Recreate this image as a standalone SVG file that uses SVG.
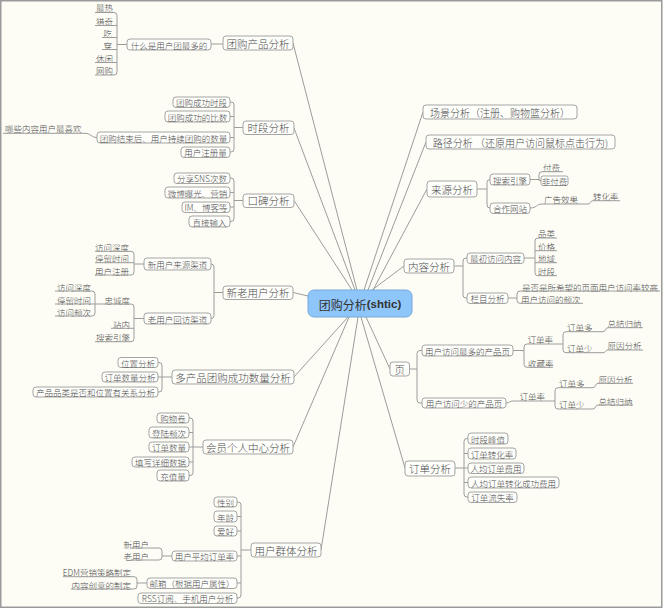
<svg xmlns="http://www.w3.org/2000/svg" width="663" height="608" viewBox="0 0 663 608">
<style>
  .bg{fill:#fdfdf6}
  .bx{fill:#fefefb;stroke:#a4a4a4;stroke-width:1}
  .c{fill:none;stroke:#9c9c9c;stroke-width:1}
  text{font-family:"Noto Sans CJK SC","Noto Sans",sans-serif;fill:#4c4c4c;font-weight:300;dominant-baseline:central}
  .m{font-size:10.5px;text-anchor:middle}
  .mw{font-size:10px;text-anchor:middle}
  .s{font-size:8.5px;text-anchor:middle}
  .l{font-size:8.5px;text-anchor:start}
  .r{font-size:8.5px;text-anchor:end}
</style>
<rect class="bg" x="0" y="0" width="663" height="608"/>
<rect x="0.75" y="0.75" width="661" height="606.5" fill="none" stroke="#9a9a9a" stroke-width="1.5"/>

<!-- connectors: root spokes and elbow brackets -->
<g id="connectors">
  <path class="c" d="M293 43L357 290M294 128L355 290M294 200.5L352 290M293 292.5L308 296M294 377L348 317M293 447L349 317M321 550L358 317"/>
  <path class="c" d="M423 112L364 290M426 142L368 290M427 189L373 290M404 266L372 290M390 369L366 317M405 468L361 317"/>
  <!-- 团购产品分析 -->
  <path class="c" d="M211 44H223M114 12.5Q117 12.5 117 15.5V72Q117 75 114 75M117 44.5H127"/>
  <!-- 时段分析 -->
  <path class="c" d="M230 102H231Q234 102 234 105V149Q234 152 231 152H230M230 116.5H234M230 137.5H234M234 127.5H243M85 133.3C91 133.3 91 137.5 97 137.5"/>
  <!-- 口碑分析 -->
  <path class="c" d="M230 178H231Q234 178 234 181V218.5Q234 221.5 231 221.5H230M230 192.5H234M230 207H234M234 200.5H243"/>
  <!-- 新老用户分析 -->
  <path class="c" d="M211 264Q214 264 214 267V315.5Q214 318.5 211 318.5M214 292.5H223"/>
  <path class="c" d="M131 251.3Q134 251.3 134 254.3V272Q134 275 131 275M134 264H144"/>
  <path class="c" d="M131 304Q134 304 134 307V338.7Q134 341.7 131 341.7M134 318.5H144M92 291Q95 291 95 294V313Q95 316 92 316"/>
  <!-- 多产品团购成功数量分析 -->
  <path class="c" d="M158 362.5H159Q162 362.5 162 365.5V389Q162 392 159 392H158M158 377H172"/>
  <!-- 会员个人中心分析 -->
  <path class="c" d="M189 418H190Q193 418 193 421V472.5Q193 475.5 190 475.5H189M189 432.5H193M189 447H203M189 462H193"/>
  <!-- 用户群体分析 -->
  <path class="c" d="M237 502H238Q241 502 241 505V595Q241 598 238 598H237M237 516.5H241M237 531H241M237 556H241M237 583H241M241 550H251"/>
  <path class="c" d="M159 548Q162 548 162 551V557Q162 560 159 560M162 556H172"/>
  <path class="c" d="M134 576.7Q137 576.7 137 579.7V586Q137 589 134 589M137 583H147"/>
  <!-- 来源分析 -->
  <path class="c" d="M490 179.5Q487 179.5 487 182.5V205Q487 208 490 208M477 189H487"/>
  <path class="c" d="M542 171.7Q539 171.7 539 174.7V180.5H541M530 179.5H539"/>
  <path class="c" d="M530 208C537 208 536 204 542 204M588 204C591 204 590 200.7 593 200.7"/>
  <!-- 内容分析 -->
  <path class="c" d="M467 258H466Q463 258 463 261V295Q463 298 466 298H467M454 266H463"/>
  <path class="c" d="M538 238Q535 238 535 241V272.7Q535 275.7 538 275.7M524 258H535"/>
  <path class="c" d="M520 291Q517 291 517 294V300.3Q517 303.3 520 303.3M508 298H517"/>
  <!-- 页 -->
  <path class="c" d="M422 350.5H420Q417 350.5 417 353.5V400Q417 403 420 403H422M409.5 369H417"/>
  <path class="c" d="M527 344Q524 344 524 347V364.3Q524 367.3 527 367.3M513 350.5H524"/>
  <path class="c" d="M566 331.7Q563 331.7 563 334.7V349.7Q563 352.7 566 352.7M553 344H563"/>
  <path class="c" d="M603 331.7C606 331.7 605 327.7 608 327.7M603 352.7C606 352.7 605 350 608 350"/>
  <path class="c" d="M506 403C510 403 509 401 513 401"/>
  <path class="c" d="M558 387.7Q555 387.7 555 390.7V406Q555 409 558 409M553 401H555"/>
  <path class="c" d="M593 387.7C596 387.7 595 383.3 598 383.3M593 409C596 409 595 405 598 405"/>
  <!-- 订单分析 -->
  <path class="c" d="M468 438.5H467Q464 438.5 464 441.5V494Q464 497 467 497H468M464 453.5H468M455 468H468M464 482.5H468"/>
</g>

<!-- central topic -->
<g id="root">
  <rect x="308" y="290" width="104" height="27" rx="6" fill="#8fc6fa" stroke="#76a8d8"/>
  <text x="360" y="304" text-anchor="middle" style="font-size:12px;font-weight:400;fill:#333"><tspan>团购分析</tspan><tspan font-family="Liberation Sans, sans-serif" font-weight="bold" font-size="11.5">(shtic)</tspan></text>
</g>

<!-- left: 团购产品分析 -->
<g id="n-product"><rect class="bx" x="223" y="36" width="70" height="14" rx="3"/><text class="m" x="258" y="43">团购产品分析</text></g>
<g id="n-product-most"><rect class="bx" x="127" y="39" width="84" height="11" rx="3"/><text class="s" x="169" y="44.5">什么是用户团最多的</text></g>
<g id="n-hot"><text class="r" x="113" y="7">最热</text><path class="c" d="M95 12.5H114"/></g>
<g id="n-novel"><text class="r" x="113" y="20.5">猎奇</text><path class="c" d="M95 25.5H117"/></g>
<g id="n-eat"><text class="r" x="112" y="32.5">吃</text><path class="c" d="M102 37.5H117"/></g>
<g id="n-wear"><text class="r" x="112" y="44.5">穿</text><path class="c" d="M102 49.5H117"/></g>
<g id="n-leisure"><text class="r" x="113" y="57.5">休闲</text><path class="c" d="M95 62.5H117"/></g>
<g id="n-online"><text class="r" x="113" y="70">网购</text><path class="c" d="M95 75H114"/></g>

<!-- left: 时段分析 -->
<g id="n-period"><rect class="bx" x="243" y="121" width="51" height="13.5" rx="3"/><text class="m" x="268.5" y="127.75">时段分析</text></g>
<g id="n-period-1"><rect class="bx" x="173" y="97" width="57" height="10.5" rx="3"/><text class="s" x="201.5" y="102.25">团购成功时段</text></g>
<g id="n-period-2"><rect class="bx" x="165" y="111" width="65" height="11" rx="3"/><text class="s" x="197.5" y="116.5">团购成功的比数</text></g>
<g id="n-period-3"><rect class="bx" x="97" y="132" width="133" height="11" rx="3"/><text class="s" x="163.5" y="137.5">团购结束后、用户持续团购的数量</text></g>
<g id="n-period-3a"><text class="l" x="5" y="128.3">哪些内容用户最喜欢</text><path class="c" d="M3 133.3H85"/></g>
<g id="n-period-4"><rect class="bx" x="181" y="147" width="49" height="10.5" rx="3"/><text class="s" x="205.5" y="152.25">用户注册量</text></g>

<!-- left: 口碑分析 -->
<g id="n-wom"><rect class="bx" x="243" y="194" width="51" height="13.5" rx="3"/><text class="m" x="268.5" y="200.75">口碑分析</text></g>
<g id="n-wom-1"><rect class="bx" x="174" y="173" width="56" height="10.5" rx="3"/><text class="s" x="202" y="178.25">分享SNS次数</text></g>
<g id="n-wom-2"><rect class="bx" x="165" y="187" width="65" height="11" rx="3"/><text class="s" x="197.5" y="192.5">微博曝光、营销</text></g>
<g id="n-wom-3"><rect class="bx" x="182" y="202" width="48" height="10.5" rx="3"/><text class="s" x="206" y="207.25">IM、博客等</text></g>
<g id="n-wom-4"><rect class="bx" x="189" y="216" width="41" height="11" rx="3"/><text class="s" x="209.5" y="221.5">直接输入</text></g>

<!-- left: 新老用户分析 -->
<g id="n-users"><rect class="bx" x="223" y="286" width="70" height="13.5" rx="3"/><text class="m" x="258" y="292.75">新老用户分析</text></g>
<g id="n-new-src"><rect class="bx" x="144" y="258" width="67" height="12" rx="3"/><text class="s" x="177.5" y="264">新用户来源渠道</text></g>
<g id="n-new-depth"><text class="r" x="129" y="246.8">访问深度</text><path class="c" d="M95 251.3H131"/></g>
<g id="n-new-stay"><text class="r" x="129" y="258.3">停留时间</text><path class="c" d="M95 262.7H134"/></g>
<g id="n-new-reg"><text class="r" x="129" y="270.5">用户注册</text><path class="c" d="M95 275H131"/></g>
<g id="n-old-back"><rect class="bx" x="144" y="313" width="67" height="11" rx="3"/><text class="s" x="177.5" y="318.5">老用户回访渠道</text></g>
<g id="n-loyal"><text class="r" x="130" y="299.5">忠诚度</text><path class="c" d="M95 304H131"/></g>
<g id="n-old-depth"><text class="r" x="91" y="286.7">访问深度</text><path class="c" d="M55 291H92"/></g>
<g id="n-old-stay"><text class="r" x="91" y="299.5">停留时间</text><path class="c" d="M55 304H95"/></g>
<g id="n-old-freq"><text class="r" x="91" y="311.7">访问频次</text><path class="c" d="M55 316H92"/></g>
<g id="n-onsite"><text class="r" x="130" y="323.5">站内</text><path class="c" d="M111 328.3H134"/></g>
<g id="n-search"><text class="r" x="130" y="337.3">搜索引擎</text><path class="c" d="M95 341.7H131"/></g>

<!-- left: 多产品团购成功数量分析 -->
<g id="n-multi"><rect class="bx" x="172" y="370" width="122" height="14" rx="3"/><text class="m" x="233" y="377">多产品团购成功数量分析</text></g>
<g id="n-multi-1"><rect class="bx" x="118" y="357.5" width="40" height="10" rx="3"/><text class="s" x="138" y="362.5">位置分析</text></g>
<g id="n-multi-2"><rect class="bx" x="102" y="372" width="56" height="10" rx="3"/><text class="s" x="130" y="377">订单数量分析</text></g>
<g id="n-multi-3"><rect class="bx" x="33" y="387" width="125" height="10" rx="3"/><text class="s" x="95.5" y="392">产品品类是否和位置有关系分析</text></g>

<!-- left: 会员个人中心分析 -->
<g id="n-member"><rect class="bx" x="203" y="440" width="90" height="14" rx="3"/><text class="m" x="248" y="447">会员个人中心分析</text></g>
<g id="n-member-1"><rect class="bx" x="157" y="413" width="32" height="10" rx="3"/><text class="s" x="173" y="418">购物卷</text></g>
<g id="n-member-2"><rect class="bx" x="149" y="427" width="40" height="11" rx="3"/><text class="s" x="169" y="432.5">登陆频次</text></g>
<g id="n-member-3"><rect class="bx" x="149" y="442" width="40" height="10" rx="3"/><text class="s" x="169" y="447">订单数量</text></g>
<g id="n-member-4"><rect class="bx" x="132" y="457" width="57" height="10" rx="3"/><text class="s" x="160.5" y="462">填写详细数据</text></g>
<g id="n-member-5"><rect class="bx" x="157" y="470" width="32" height="11" rx="3"/><text class="s" x="173" y="475.5">充值量</text></g>

<!-- left: 用户群体分析 -->
<g id="n-group"><rect class="bx" x="251" y="543" width="70" height="14" rx="3"/><text class="m" x="286" y="550">用户群体分析</text></g>
<g id="n-group-1"><rect class="bx" x="214" y="497" width="23" height="10" rx="3"/><text class="s" x="225.5" y="502">性别</text></g>
<g id="n-group-2"><rect class="bx" x="214" y="511" width="23" height="11" rx="3"/><text class="s" x="225.5" y="516.5">年龄</text></g>
<g id="n-group-3"><rect class="bx" x="214" y="526" width="23" height="10" rx="3"/><text class="s" x="225.5" y="531">爱好</text></g>
<g id="n-group-4"><rect class="bx" x="172" y="551" width="65" height="10" rx="3"/><text class="s" x="204.5" y="556">用户平均订单率</text></g>
<g id="n-group-4a"><text class="r" x="149" y="543.5">新用户</text><path class="c" d="M131 548H159"/></g>
<g id="n-group-4b"><text class="r" x="149" y="555.8">老用户</text><path class="c" d="M131 560H159"/></g>
<g id="n-group-5"><rect class="bx" x="147" y="578" width="90" height="10.5" rx="3"/><text class="s" x="192" y="583.25">邮箱（根据用户属性）</text></g>
<g id="n-group-5a"><text class="r" x="131" y="572.3">EDM营销策略制定</text><path class="c" d="M63 576.7H134"/></g>
<g id="n-group-5b"><text class="r" x="131" y="584.5">内容创意的制定</text><path class="c" d="M71 589H134"/></g>
<g id="n-group-6"><rect class="bx" x="138" y="593" width="99" height="10.5" rx="3"/><text class="s" x="187.5" y="598.25">RSS订阅、手机用户分析</text></g>

<!-- right: 场景 / 路径 -->
<g id="n-scene"><rect class="bx" x="423" y="105" width="154" height="14" rx="3"/><text class="mw" x="500" y="112">场景分析（注册、购物篮分析）</text></g>
<g id="n-path"><rect class="bx" x="426" y="135" width="189" height="14" rx="3"/><text class="mw" x="520.5" y="142">路径分析 （还原用户访问鼠标点击行为)</text></g>

<!-- right: 来源分析 -->
<g id="n-source"><rect class="bx" x="427" y="181" width="50" height="16" rx="3"/><text class="m" x="452" y="189">来源分析</text></g>
<g id="n-source-se"><rect class="bx" x="490" y="174" width="40" height="11" rx="3"/><text class="s" x="510" y="179.5">搜索引擎</text></g>
<g id="n-paid"><text class="l" x="543" y="167.3">付费</text><path class="c" d="M542 171.7H563"/></g>
<g id="n-unpaid"><rect class="bx" x="541" y="176" width="27" height="9.5" rx="2"/><text class="s" x="554.5" y="180.75">非付费</text></g>
<g id="n-source-partner"><rect class="bx" x="490" y="203" width="40" height="10.5" rx="3"/><text class="s" x="510" y="208.25">合作网站</text></g>
<g id="n-ad"><text class="l" x="544" y="198.5">广告效果</text><path class="c" d="M542 204H588"/></g>
<g id="n-conv"><text class="l" x="593" y="196">转化率</text><path class="c" d="M593 200.7H620"/></g>

<!-- right: 内容分析 -->
<g id="n-content"><rect class="bx" x="404" y="259" width="50" height="14" rx="3"/><text class="m" x="429" y="266">内容分析</text></g>
<g id="n-first"><rect class="bx" x="467" y="253" width="57" height="10.5" rx="3"/><text class="s" x="495.5" y="258.25">最初访问内容</text></g>
<g id="n-cat"><text class="l" x="538" y="233.3">品类</text><path class="c" d="M538 238H557"/></g>
<g id="n-price"><text class="l" x="538" y="246">价格</text><path class="c" d="M535 250.7H557"/></g>
<g id="n-region"><text class="l" x="538" y="258.3">地域</text><path class="c" d="M535 262.7H557"/></g>
<g id="n-time"><text class="l" x="538" y="271.3">时段</text><path class="c" d="M538 275.7H557"/></g>
<g id="n-column"><rect class="bx" x="467" y="293" width="41" height="10.5" rx="3"/><text class="s" x="487.5" y="298.25">栏目分析</text></g>
<g id="n-column-1"><text class="l" x="522" y="286.5">是否是所希望的页面用户访问率较高</text><path class="c" d="M520 291H660"/></g>
<g id="n-column-2"><text class="l" x="521" y="299">用户访问的频次</text><path class="c" d="M520 303.3H583"/></g>

<!-- right: 页 -->
<g id="n-page"><rect class="bx" x="390" y="362" width="19.5" height="14" rx="3"/><text class="m" x="399.75" y="369">页</text></g>
<g id="n-page-most"><rect class="bx" x="422" y="345" width="91" height="11" rx="3"/><text class="s" x="467.5" y="350.5">用户访问最多的产品页</text></g>
<g id="n-pm-rate"><text class="l" x="527.5" y="339.3">订单率</text><path class="c" d="M527 344H553"/></g>
<g id="n-pm-more"><text class="l" x="567" y="327.2">订单多</text><path class="c" d="M566 331.7H603"/></g>
<g id="n-pm-more-a"><text class="l" x="607.5" y="322.5">总结归纳</text><path class="c" d="M608 327.7H643"/></g>
<g id="n-pm-less"><text class="l" x="567" y="347.8">订单少</text><path class="c" d="M566 352.7H603"/></g>
<g id="n-pm-less-a"><text class="l" x="607.5" y="345.2">原因分析</text><path class="c" d="M608 350H643"/></g>
<g id="n-pm-fav"><text class="l" x="528" y="363">收藏率</text><path class="c" d="M527 367.3H553"/></g>
<g id="n-page-few"><rect class="bx" x="422" y="398" width="84" height="10" rx="3"/><text class="s" x="464" y="403">用户访问少的产品页</text></g>
<g id="n-pf-rate"><text class="l" x="519.5" y="395.5">订单率</text><path class="c" d="M513 401H553"/></g>
<g id="n-pf-more"><text class="l" x="559" y="383">订单多</text><path class="c" d="M558 387.7H593"/></g>
<g id="n-pf-more-a"><text class="l" x="598.5" y="378.5">原因分析</text><path class="c" d="M598 383.3H633"/></g>
<g id="n-pf-less"><text class="l" x="559" y="404">订单少</text><path class="c" d="M558 409H593"/></g>
<g id="n-pf-less-a"><text class="l" x="598.5" y="400.5">总结归纳</text><path class="c" d="M598 405H633"/></g>

<!-- right: 订单分析 -->
<g id="n-order"><rect class="bx" x="405" y="461" width="50" height="15" rx="3"/><text class="m" x="430" y="468.5">订单分析</text></g>
<g id="n-order-1"><rect class="bx" x="468" y="433" width="40" height="11" rx="3"/><text class="s" x="488" y="438.5">时段峰值</text></g>
<g id="n-order-2"><rect class="bx" x="468" y="448" width="48" height="11" rx="3"/><text class="s" x="492" y="453.5">订单转化率</text></g>
<g id="n-order-3"><rect class="bx" x="468" y="463" width="56" height="10.5" rx="3"/><text class="s" x="496" y="468.25">人均订单费用</text></g>
<g id="n-order-4"><rect class="bx" x="468" y="477" width="91" height="11" rx="3"/><text class="s" x="513.5" y="482.5">人均订单转化成功费用</text></g>
<g id="n-order-5"><rect class="bx" x="468" y="492" width="49" height="10.5" rx="3"/><text class="s" x="492.5" y="497.25">订单流失率</text></g>
</svg>
